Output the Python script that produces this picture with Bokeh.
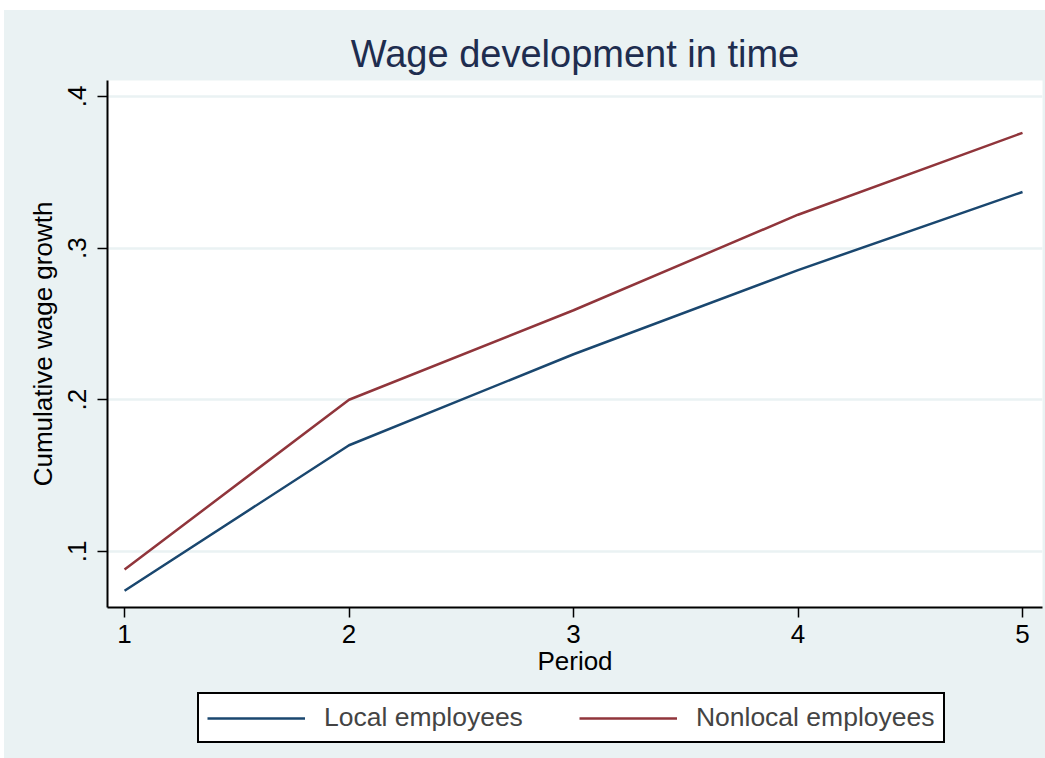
from bokeh.plotting import figure
from bokeh.layouts import column
from bokeh.models import FixedTicker, Legend, LegendItem, Range1d
from bokeh.embed import file_html
from bokeh.resources import INLINE

periods = [1, 2, 3, 4, 5]
local = [0.074, 0.170, 0.230, 0.2855, 0.337]
nonlocal_ = [0.088, 0.200, 0.259, 0.322, 0.376]
y_ticks = [0.1, 0.2, 0.3, 0.4]
y_labels = [".1", ".2", ".3", ".4"]
series_names = ["Local employees", "Nonlocal employees"]

BG = "#eaf2f3"
FONT = "Liberation Sans"
C_LOCAL = "#1a476f"
C_NONLOCAL = "#90353b"

p = figure(width=1041, height=672, output_backend="svg", toolbar_location=None,
           x_range=Range1d(0.924, 5.089), y_range=Range1d(0.063, 0.4105),
           min_border_left=103, min_border_right=3, min_border_top=70, min_border_bottom=75)
p.border_fill_color = BG
p.background_fill_color = "white"
p.outline_line_color = None

p.title.text = "Wage development in time"
p.title.align = "center"
p.title.text_font = FONT
p.title.text_font_size = "38px"
p.title.text_font_style = "normal"
p.title.text_color = "#1e2d4f"
p.title.standoff = 12

p.line(periods, local, line_color=C_LOCAL, line_width=2.5)
p.line(periods, nonlocal_, line_color=C_NONLOCAL, line_width=2.5)

p.xaxis.ticker = FixedTicker(ticks=periods)
p.yaxis.ticker = FixedTicker(ticks=y_ticks)
p.yaxis.major_label_overrides = {t: l for t, l in zip(y_ticks, y_labels)}
p.yaxis.major_label_orientation = "vertical"
p.xaxis.axis_label = "Period"
p.yaxis.axis_label = "Cumulative wage growth"
for ax in (p.xaxis, p.yaxis):
    ax.axis_line_color = "black"
    ax.axis_line_width = 2
    ax.major_tick_line_color = "black"
    ax.major_tick_line_width = 1.5
    ax.major_tick_out = 10
    ax.major_tick_in = 0
    ax.minor_tick_line_color = None
    ax.major_label_text_font = FONT
    ax.major_label_text_font_size = "26px"
    ax.major_label_text_color = "black"
    ax.axis_label_text_font = FONT
    ax.axis_label_text_font_size = "26px"
    ax.axis_label_text_font_style = "normal"
    ax.axis_label_text_color = "black"
p.xaxis.major_label_standoff = 7
p.xaxis.axis_label_standoff = 0
p.yaxis.major_label_standoff = 11
p.yaxis.axis_label_standoff = 8

p.xgrid.grid_line_color = None
p.ygrid.grid_line_color = BG
p.ygrid.grid_line_width = 2.5

# legend strip below the plot (same series, drawn out of view; only the legend shows)
lg = figure(width=1041, height=76, output_backend="svg", toolbar_location=None,
            x_range=Range1d(100, 101), y_range=Range1d(100, 101),
            x_axis_type=None, y_axis_type=None,
            min_border_left=0, min_border_right=0, min_border_top=0, min_border_bottom=0)
lg.border_fill_color = BG
lg.background_fill_color = None
lg.outline_line_color = None
lg.grid.grid_line_color = None
l1 = lg.line(periods, local, line_color=C_LOCAL, line_width=2.5)
l2 = lg.line(periods, nonlocal_, line_color=C_NONLOCAL, line_width=2.5)

legend = Legend(items=[LegendItem(label=series_names[0], renderers=[l1]),
                       LegendItem(label=series_names[1], renderers=[l2])],
                orientation="horizontal", location=(90, 15))
legend.border_line_color = "black"
legend.border_line_alpha = 1
legend.border_line_width = 2
legend.background_fill_color = "white"
legend.background_fill_alpha = 1
legend.label_text_font = FONT
legend.label_text_font_size = "26.5px"
legend.glyph_width = 98
legend.label_standoff = 19
legend.spacing = 56
legend.padding = 8
legend.margin = 0
lg.add_layout(legend, "center")

layout = column(p, lg, spacing=0, margin=(10, 0, 0, 4),
                styles={"background-color": BG})
open("out.html", "w").write(file_html(layout, INLINE))
